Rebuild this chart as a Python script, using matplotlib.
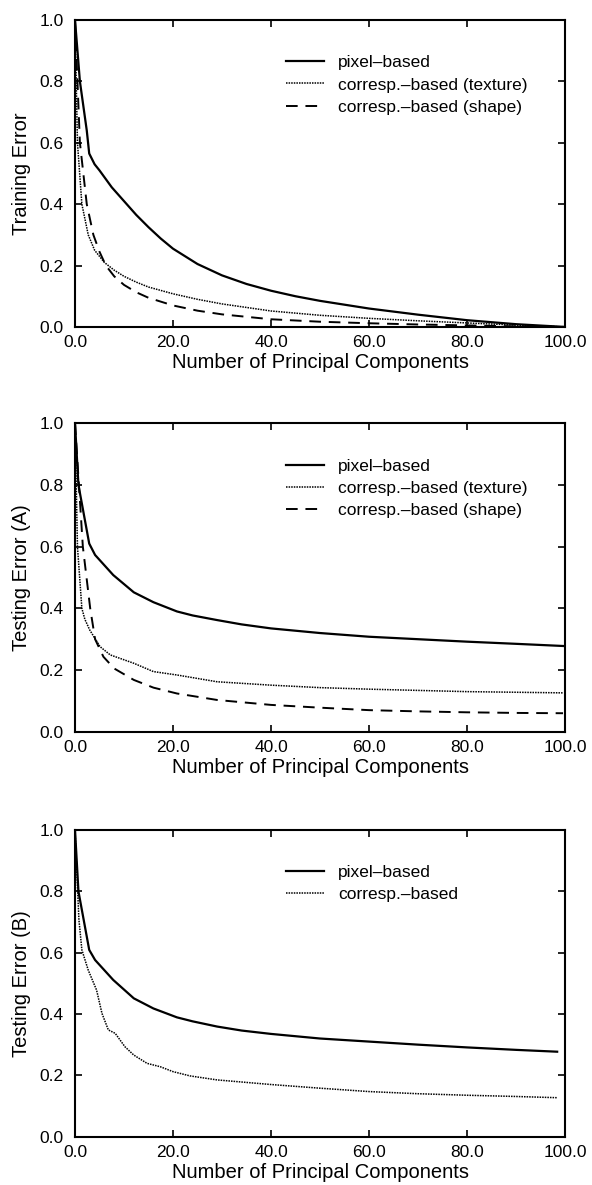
import matplotlib
matplotlib.use("Agg")
import matplotlib.pyplot as plt

plt.rcParams['font.family'] = ['Liberation Sans', 'DejaVu Sans']

# panel 1: training error
train_pix_x = [0, 1.0, 2.4, 2.9, 4, 5, 7.5, 10, 12.5, 15, 17.5, 20, 25, 30, 35, 40, 45, 50, 60, 70, 80, 90, 100]
train_pix_y = [1.0, 0.8, 0.64, 0.565, 0.53, 0.51, 0.455, 0.41, 0.365, 0.325, 0.288, 0.255, 0.205, 0.168, 0.14,
               0.118, 0.1, 0.085, 0.06, 0.04, 0.022, 0.009, 0.0]
train_tex_x = [0, 0.5, 1.4, 2.7, 4, 6, 8, 10, 12.5, 15, 20, 25, 30, 40, 50, 60, 70, 80, 90, 100]
train_tex_y = [1.0, 0.6, 0.4, 0.3, 0.25, 0.21, 0.185, 0.165, 0.146, 0.13, 0.108, 0.09, 0.075, 0.052, 0.038, 0.028,
               0.02, 0.013, 0.006, 0.0]
train_shp_x = [0, 1, 2.4, 3.75, 5, 6.3, 8, 10, 12.5, 15, 20, 25, 30, 40, 50, 60, 70, 80, 90, 100]
train_shp_y = [1.0, 0.6, 0.4, 0.3, 0.245, 0.2, 0.165, 0.137, 0.113, 0.095, 0.07, 0.053, 0.041, 0.025, 0.017, 0.012,
               0.008, 0.005, 0.002, 0.0]

# panel 2: testing error (A)
testa_pix_x = [0, 0.7, 2.9, 4.1, 7.8, 12, 16, 20.8, 24, 29, 34, 40, 50, 60, 70, 80, 90, 99.6]
testa_pix_y = [1.0, 0.8, 0.61, 0.573, 0.508, 0.452, 0.42, 0.39, 0.377, 0.362, 0.348, 0.335, 0.32, 0.308, 0.3, 0.292,
               0.285, 0.278]
testa_tex_x = [0, 0.5, 1.4, 2, 3, 5.1, 7.2, 12, 16, 20.8, 29, 40, 50, 60, 70, 80, 90, 99.6]
testa_tex_y = [1.0, 0.6, 0.4, 0.365, 0.33, 0.276, 0.249, 0.222, 0.195, 0.184, 0.162, 0.151, 0.143, 0.138, 0.134,
               0.13, 0.128, 0.126]
testa_shp_x = [0, 0.8, 1.6, 3.1, 4.1, 5.8, 8, 12, 16, 20.8, 29, 40, 50, 60, 70, 80, 90, 99.6]
testa_shp_y = [1.0, 0.8, 0.6, 0.4, 0.3, 0.243, 0.205, 0.168, 0.143, 0.124, 0.103, 0.087, 0.078, 0.07, 0.066,
               0.063, 0.061, 0.06]

# panel 3: testing error (B)
testb_pix_x = [0, 0.7, 2.9, 4.1, 7.8, 12, 16, 20.8, 24, 29, 34, 40, 50, 60, 70, 80, 90, 98.4]
testb_pix_y = [1.0, 0.8, 0.609, 0.576, 0.511, 0.451, 0.418, 0.389, 0.376, 0.359, 0.346, 0.335, 0.32, 0.31, 0.3,
               0.291, 0.283, 0.277]
testb_cor_x = [0, 0.8, 1.4, 2.7, 4.4, 5.5, 6.8, 8.2, 10.2, 12, 14.7, 17.4, 20, 23.5, 29, 40, 50, 60, 70, 80, 90, 98.4]
testb_cor_y = [1.0, 0.707, 0.609, 0.543, 0.478, 0.402, 0.348, 0.337, 0.293, 0.266, 0.239, 0.228, 0.212, 0.198,
               0.185, 0.17, 0.158, 0.147, 0.14, 0.135, 0.131, 0.127]

xticks = [0, 20, 40, 60, 80, 100]
yticks = [0.0, 0.2, 0.4, 0.6, 0.8, 1.0]
xlabel = "Number of Principal Components"

fig = plt.figure(figsize=(5.92, 11.85), dpi=100)
ax1 = fig.add_axes([0.1267, 0.7241, 0.8277, 0.259])
ax2 = fig.add_axes([0.1267, 0.3825, 0.8277, 0.2603])
ax3 = fig.add_axes([0.1267, 0.0408, 0.8277, 0.2588])

solid = dict(color='black', lw=1.6, ls='-')
dotted = dict(color='black', lw=1.1, ls=(0, (1, 0.7)))
dashed = dict(color='black', lw=1.4, ls=(0, (6, 4)))


def arreglar_ejes(ax, ylabel):
    ax.set_xlim(0, 100)
    ax.set_ylim(0, 1)
    ax.set_xticks(xticks)
    ax.set_xticklabels(["%.1f" % v for v in xticks])
    ax.set_yticks(yticks)
    ax.set_yticklabels(["%.1f" % v for v in yticks])
    ax.tick_params(direction='in', length=5, width=1.2, top=True, right=True, labelsize=12.5)
    ax.tick_params(axis='x', pad=6)
    ax.tick_params(axis='y', pad=8)
    for s in ax.spines.values():
        s.set_linewidth(1.5)
    ax.set_xlabel(xlabel, fontsize=14.5, labelpad=2)
    ax.set_ylabel(ylabel, fontsize=14.5, labelpad=6)
    ax.legend(loc='upper left', bbox_to_anchor=(0.43, 0.885), frameon=False, fontsize=12.5,
              handlelength=2.2, handletextpad=0.8, labelspacing=0.4, borderaxespad=0, borderpad=0)


ax1.plot(train_pix_x, train_pix_y, label="pixel\u2013based", **solid)
ax1.plot(train_tex_x, train_tex_y, label="corresp.\u2013based (texture)", **dotted)
ax1.plot(train_shp_x, train_shp_y, label="corresp.\u2013based (shape)", **dashed)
arreglar_ejes(ax1, "Training Error")

ax2.plot(testa_pix_x, testa_pix_y, label="pixel\u2013based", **solid)
ax2.plot(testa_tex_x, testa_tex_y, label="corresp.\u2013based (texture)", **dotted)
ax2.plot(testa_shp_x, testa_shp_y, label="corresp.\u2013based (shape)", **dashed)
arreglar_ejes(ax2, "Testing Error (A)")

ax3.plot(testb_pix_x, testb_pix_y, label="pixel\u2013based", **solid)
ax3.plot(testb_cor_x, testb_cor_y, label="corresp.\u2013based", **dotted)
arreglar_ejes(ax3, "Testing Error (B)")

fig.savefig("out.png", dpi=100)
